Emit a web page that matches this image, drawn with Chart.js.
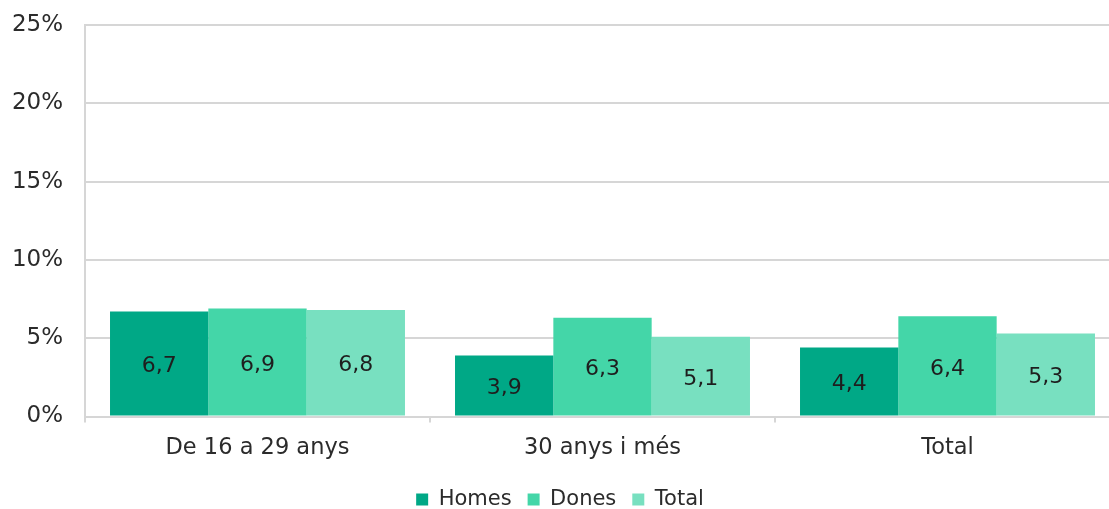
<!DOCTYPE html>
<html>
<head>
<meta charset="utf-8">
<script src="https://cdn.jsdelivr.net/npm/chart.js@4/dist/chart.umd.min.js"></script>
<style>
  html, body { margin: 0; padding: 0; background: #fff; overflow: hidden; }
  #wrap { width: 1135px; height: 509px; position: relative; }
</style>
</head>
<body>
<div id="wrap"><canvas id="c" width="1135" height="509"></canvas></div>
<script>
const categories = ["De 16 a 29 anys", "30 anys i més", "Total"];
const homes = [6.7, 3.9, 4.4];
const dones = [6.9, 6.3, 6.4];
const total = [6.8, 5.1, 5.3];
const seriesNames = ["Homes", "Dones", "Total"];
const yTicks = [0, 5, 10, 15, 20, 25];

const FONT = "'DejaVu Sans', Verdana, sans-serif";
const gridColor = "#d6d6d6";

const dataLabels = {
  id: "dataLabels",
  afterDatasetsDraw(chart) {
    const ctx = chart.ctx;
    ctx.save();
    ctx.font = "22px " + FONT;
    ctx.fillStyle = "#1e1e1e";
    ctx.textAlign = "center";
    ctx.textBaseline = "middle";
    chart.data.datasets.forEach((ds, i) => {
      const meta = chart.getDatasetMeta(i);
      meta.data.forEach((el, j) => {
        const v = ds.data[j];
        ctx.fillText(v.toFixed(1).replace(".", ","), el.x, (el.y + el.base) / 2 + 3);
      });
    });
    ctx.restore();
  }
};

new Chart(document.getElementById("c"), {
  type: "bar",
  data: {
    labels: categories,
    datasets: [
      { label: seriesNames[0], data: homes, backgroundColor: "#00a886" },
      { label: seriesNames[1], data: dones, backgroundColor: "#44d6a8" },
      { label: seriesNames[2], data: total, backgroundColor: "#78e0c0" }
    ]
  },
  options: {
    responsive: false,
    animation: false,
    layout: { padding: { top: 0, right: 15, left: 0, bottom: -11 } },
    datasets: { bar: { categoryPercentage: 0.855, barPercentage: 1.0, borderWidth: 0 } },
    scales: {
      x: {
        grid: { display: true, drawOnChartArea: false, drawTicks: true, tickLength: 6, color: gridColor, lineWidth: 2 },
        border: { display: true, color: gridColor, width: 2 },
        ticks: { color: "#2b2b2b", font: { family: FONT, size: 22.5, lineHeight: 1.0 }, padding: 14 }
      },
      y: {
        min: 0, max: 25,
        afterBuildTicks(scale) { scale.ticks = yTicks.map(v => ({ value: v })); },
        afterFit(scale) { scale.width = 85; },
        grid: { color: gridColor, lineWidth: 2, drawTicks: false },
        border: { display: true, color: gridColor, width: 2 },
        ticks: { color: "#2b2b2b", font: { family: FONT, size: 23, lineHeight: 0.27 }, padding: 22, callback: v => v + "%" }
      }
    },
    plugins: {
      legend: {
        position: "bottom",
        labels: { color: "#2b2b2b", font: { family: FONT, size: 21 }, boxWidth: 12, boxHeight: 12, padding: 16 }
      },
      tooltip: { enabled: false }
    }
  },
  plugins: [dataLabels]
});
</script>
</body>
</html>
